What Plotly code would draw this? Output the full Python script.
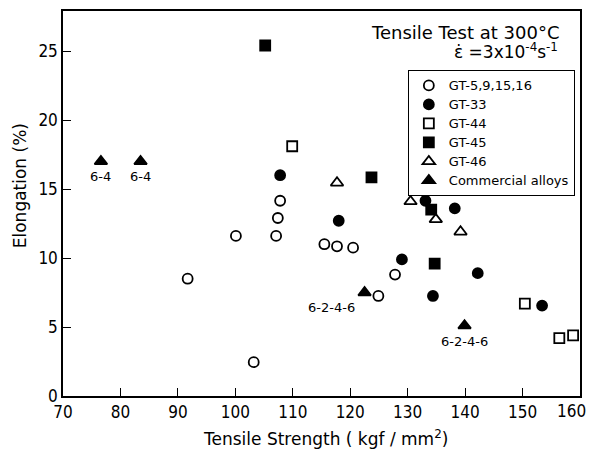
import plotly.graph_objects as go

# GT-5,9,15,16 (open circles)
gt5_x = [91.7, 100.1, 103.2, 107.1, 107.4, 107.8, 115.5, 117.7, 120.5, 127.8, 124.9]
gt5_y = [8.5, 11.6, 2.45, 11.6, 12.9, 14.15, 11.0, 10.85, 10.75, 8.8, 7.25]
# GT-33 (filled circles)
gt33_x = [107.8, 118.0, 129.0, 133.1, 138.2, 134.4, 142.2, 153.4]
gt33_y = [16.0, 12.7, 9.9, 14.15, 13.6, 7.25, 8.9, 6.55]
# GT-44 (open squares)
gt44_x = [109.9, 150.4, 156.4, 158.8]
gt44_y = [18.1, 6.7, 4.2, 4.4]
# GT-45 (filled squares)
gt45_x = [105.2, 123.7, 134.1, 134.7]
gt45_y = [25.4, 15.85, 13.5, 9.6]
# GT-46 (open triangles)
gt46_x = [117.7, 130.5, 134.9, 139.2]
gt46_y = [15.45, 14.1, 12.8, 11.9]
# Commercial alloys (filled triangles)
com_x = [76.6, 83.5, 122.5, 139.9]
com_y = [17.0, 17.0, 7.5, 5.1]
com_labels = ["6-4", "6-4", "6-2-4-6", "6-2-4-6"]

x_ticks = [70, 80, 90, 100, 110, 120, 130, 140, 150, 160]
x_ticktext = ["70", "80", "90", "100", "110", "120", "130", "140", "150", ""]
last_x_label = "160"
y_ticks = [0, 5, 10, 15, 20, 25]

FONT = "DejaVu Sans"
TICKFONT = "DejaVu Sans Condensed, DejaVu Sans"
fig = go.Figure()

def add(name, xs, ys, symbol, size):
    fig.add_trace(go.Scatter(
        x=xs, y=ys, mode="markers",
        name='<span style="font-size:13px">' + name + '</span>',
        marker=dict(symbol=symbol, size=size, color="black",
                    line=dict(color="black", width=1.8)),
    ))

add("GT-5,9,15,16", gt5_x, gt5_y, "circle-open", 10)
add("GT-33", gt33_x, gt33_y, "circle", 10)
add("GT-44", gt44_x, gt44_y, "square-open", 10)
add("GT-45", gt45_x, gt45_y, "square", 10)
add("GT-46", gt46_x, gt46_y, "triangle-up-open", 11)
add("Commercial alloys", com_x, com_y, "triangle-up", 11)

shifts = [(0, -15), (0, -15), (-33, -15), (0, -16)]
for xv, yv, lab, (dx, dy) in zip(com_x, com_y, com_labels, shifts):
    fig.add_annotation(x=xv, y=yv, text=lab, showarrow=False,
                       xshift=dx, yshift=dy,
                       font=dict(family=FONT, size=13, color="black"))

# last x tick label, kept inside the visible page edge
fig.add_annotation(x=x_ticks[-1], y=y_ticks[0], text=last_x_label,
                   showarrow=False, xanchor="right", yanchor="middle",
                   xshift=8, yshift=-15,
                   font=dict(family=TICKFONT, size=17, color="black"))

fig.add_annotation(xref="paper", yref="paper", x=0.965, y=0.945,
                   xanchor="right", yanchor="middle", showarrow=False,
                   text="Tensile Test at 300°C",
                   font=dict(family=FONT, size=18, color="black"))
fig.add_annotation(xref="paper", yref="paper", x=0.962, y=0.895,
                   xanchor="right", yanchor="middle", showarrow=False,
                   text="ε̇ =3x10<sup>-4</sup>s<sup>-1</sup>",
                   font=dict(family=FONT, size=17, color="black"))

# axis titles
fig.add_annotation(xref="paper", yref="paper", x=0.508, y=-0.109,
                   xanchor="center", yanchor="middle", showarrow=False,
                   text="Tensile Strength ( kgf / mm<sup>2</sup>)",
                   font=dict(family=FONT, size=17, color="black"))
fig.add_annotation(xref="paper", yref="paper", x=-0.083, y=0.545,
                   xanchor="center", yanchor="middle", showarrow=False,
                   textangle=-90, text="Elongation (%)",
                   font=dict(family=FONT, size=17, color="black"))

axis_common = dict(showline=True, linecolor="black", linewidth=1.5,
                   mirror=True, ticks="inside", ticklen=8, tickwidth=1.2,
                   tickcolor="black", showgrid=False, zeroline=False,
                   automargin=False,
                   tickfont=dict(family=TICKFONT, size=17, color="black"))

fig.update_xaxes(range=[70, 160], tickvals=x_ticks, ticktext=x_ticktext,
                 **axis_common)
fig.update_yaxes(range=[0, 27.9], tickvals=y_ticks, **axis_common)

# the page body adds an 8px offset, so the figure is sized to fit the window
fig.update_layout(
    width=588, height=441,
    margin=dict(l=55, r=16, t=3, b=53),
    paper_bgcolor="white", plot_bgcolor="white",
    showlegend=True,
    legend=dict(x=0.667, y=0.847, xanchor="left", yanchor="top",
                bordercolor="black", borderwidth=1, bgcolor="white",
                font=dict(family=FONT, size=12, color="black"),
                tracegroupgap=0, itemwidth=30),
)

fig.write_html("out.html")
